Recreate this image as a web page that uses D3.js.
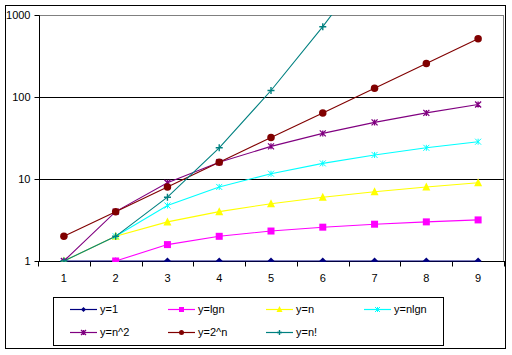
<!DOCTYPE html>
<html><head><meta charset="utf-8">
<script src="https://d3js.org/d3.v7.min.js"></script>
<style>body{margin:0;background:#fff}svg{display:block}text{font-family:"Liberation Sans",Arial,sans-serif;font-size:11px;fill:#000}</style>
</head><body><svg id="c" width="512" height="355"></svg>
<script>
const categories = [1,2,3,4,5,6,7,8,9];
const yTicks = [1,10,100,1000];
const seriesNames = ["y=1","y=lgn","y=n","y=nlgn","y=n^2","y=2^n","y=n!"];
const seriesColors = ["#000080","#FF00FF","#FFFF00","#00FFFF","#800080","#800000","#008080"];
const seriesMarkers = ["diamond","square","triangle","xstar","star","circle","plus"];
const yOne  = [1,1,1,1,1,1,1,1,1];
const yLgn  = [null,1,1.585,2,2.32,2.585,2.81,3,3.17];
const yN    = [1,2,3,4,5,6,7,8,9];
const yNlgn = [null,2,4.75,8,11.6,15.5,19.65,24,28.5];
const yN2   = [1,4,9,16,25,36,49,64,81];
const y2n   = [2,4,8,16,32,64,128,256,512];
const yFact = [1,2,6,24,120,720,5040,40320,362880];
const seriesValues = [yOne,yLgn,yN,yNlgn,yN2,y2n,yFact];

const svg = d3.select("#c");
const L=39, R=504, T=15, B=261;
const x = d3.scaleLinear().domain([0.5,9.5]).range([L-1,R]);
const y = d3.scaleLog().domain([1,1000]).range([B,T]);

svg.append("rect").attr("x",5.5).attr("y",5.5).attr("width",500).attr("height",343).attr("fill","#fff").attr("stroke","#000");
svg.append("rect").attr("x",L+0.5).attr("y",T+0.5).attr("width",R-L-1).attr("height",B-T).attr("fill","none").attr("stroke","#808080");

svg.append("g").selectAll("line").data(yTicks.filter(d=>d>1&&d<1000)).join("line")
  .attr("x1",L).attr("x2",R).attr("y1",d=>Math.round(y(d))+0.5).attr("y2",d=>Math.round(y(d))+0.5)
  .attr("stroke","#000");

const ya = svg.append("g").attr("transform",`translate(${L+0.5},0.5)`)
  .call(d3.axisLeft(y).tickValues(yTicks).tickFormat(d3.format("d")).tickSize(5).tickSizeOuter(0));
ya.select(".domain").attr("stroke","#000").attr("d",`M0,${T}V${B}`);
ya.selectAll(".tick text").attr("x",-9).style("font-size","11px").style("font-family","Liberation Sans, Arial, sans-serif");
ya.selectAll(".tick").attr("transform",d=>`translate(0,${Math.round(y(d))})`);

const xa = svg.append("g").attr("transform",`translate(0,${B+0.5})`);
xa.append("line").attr("x1",L).attr("x2",R+1).attr("stroke","#000");
xa.selectAll("line.t").data(d3.range(0,10)).join("line").attr("class","t")
  .attr("x1",k=>Math.round(x(k+0.5))+0.5).attr("x2",k=>Math.round(x(k+0.5))+0.5).attr("y1",0).attr("y2",5).attr("stroke","#000");
xa.selectAll("text").data(categories).join("text").attr("x",d=>x(d)).attr("y",20).attr("text-anchor","middle").text(d=>d);

svg.append("clipPath").attr("id","pc").append("rect").attr("x",L).attr("y",T).attr("width",R-L).attr("height",B-T+1);

function marker(g,type,color,s){
  const h=s/2;
  if(type==="diamond") g.append("path").attr("d",`M0,${-h}L${h},0L0,${h}L${-h},0Z`).attr("fill",color);
  else if(type==="square") g.append("rect").attr("x",-h).attr("y",-h).attr("width",s).attr("height",s).attr("fill",color);
  else if(type==="triangle") g.append("path").attr("d",`M0,${-h-1}L${h+0.5},${h}L${-h-0.5},${h}Z`).attr("fill",color);
  else if(type==="circle") g.append("circle").attr("r",h).attr("fill",color);
  else if(type==="xstar") g.append("path").attr("d",`M${-h},${-h}L${h},${h}M${-h},${h}L${h},${-h}M0,${-h}V${h}`).attr("stroke",color).attr("stroke-width",1).attr("fill","none");
  else if(type==="star") g.append("path").attr("d",`M${-h},${-h}L${h},${h}M${-h},${h}L${h},${-h}M0,${-h}V${h}`).attr("stroke",color).attr("stroke-width",1.3).attr("fill","none");
  else if(type==="plus") g.append("path").attr("d",`M${-h},0H${h}M0,${-h}V${h}`).attr("stroke",color).attr("stroke-width",1.4).attr("fill","none");
}
const sizes={diamond:7,square:7,triangle:7,circle:7.5,xstar:6,star:6,plus:7};

const plot = svg.append("g").attr("clip-path","url(#pc)");
seriesValues.forEach((vals,i)=>{
  const pts = categories.map((c,j)=>({c,v:vals[j]})).filter(p=>p.v!=null&&p.v>0);
  const line = d3.line().x(p=>x(p.c)).y(p=>y(p.v));
  plot.append("path").attr("d",line(pts)).attr("fill","none").attr("stroke",seriesColors[i]).attr("stroke-width",1.1);
  pts.filter(p=>p.v<=1000).forEach(p=>{
    const g=plot.append("g").attr("transform",`translate(${x(p.c)},${y(p.v)})`);
    marker(g,seriesMarkers[i],seriesColors[i],sizes[seriesMarkers[i]]);
  });
});

svg.append("rect").attr("x",53.5).attr("y",297.5).attr("width",390).attr("height",48).attr("fill","#fff").attr("stroke","#000");
seriesNames.forEach((n,i)=>{
  const col=i%4,row=Math.floor(i/4);
  const lx=70+col*98, ly=309+row*23;
  const g=svg.append("g");
  g.append("line").attr("x1",lx).attr("x2",lx+27).attr("y1",ly+0.5).attr("y2",ly+0.5).attr("stroke",seriesColors[i]).attr("stroke-width",1.2);
  const m=g.append("g").attr("transform",`translate(${lx+13.5},${ly+0.5})`);
  marker(m,seriesMarkers[i],seriesColors[i],5);
  g.append("text").attr("x",lx+30).attr("y",ly+4).text(n);
});
</script></body></html>
